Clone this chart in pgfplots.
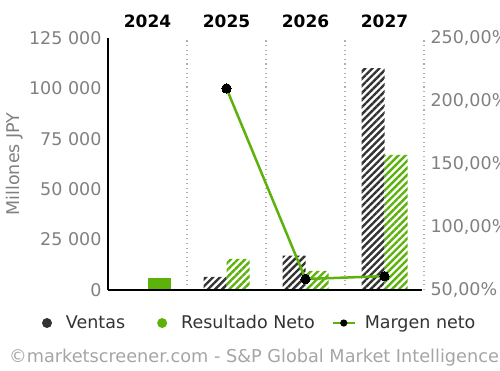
\documentclass[border=0pt]{standalone}
\usepackage{fontspec}
\setmainfont{DejaVu Sans}
\usepackage{pgfplots}
\pgfplotsset{compat=1.18}
\usetikzlibrary{patterns.meta}
\definecolor{vgreen}{RGB}{92,178,10}
\definecolor{vdark}{RGB}{51,51,51}
\definecolor{tickgray}{RGB}{128,128,128}
\definecolor{sepgray}{RGB}{175,175,175}
\definecolor{copygray}{RGB}{165,165,165}
\begin{document}
\begin{tikzpicture}
\pgfplotsset{every axis/.append style={font=\fontsize{17.5}{20}\selectfont}}
\begin{axis}[
  name=main,
  at={(108pt,80pt)}, anchor=south west, scale only axis,
  width=316pt, height=252pt,
  xmin=-0.5, xmax=3.5, ymin=0, ymax=125000,
  axis line style={draw=none},
  xtick={0,1,2,3}, xticklabels={2024,2025,2026,2027},
  xticklabel pos=upper,
  xticklabel style={font=\fontsize{17}{20}\selectfont\bfseries, text=black, yshift=7pt},
  minor xtick={0.5,1.5,2.5,3.5}, xminorgrids,
  minor grid style={sepgray, line width=1.1pt, dash pattern=on 1.1pt off 3.5pt},
  ytick={0,25000,50000,75000,100000,125000},
  yticklabels={0,25 000,50 000,75 000,100 000,125 000},
  scaled y ticks=false,
  yticklabel style={text=tickgray, xshift=-3pt},
  major tick length=0pt, minor tick length=0pt,
  ylabel={Millones JPY},
  every axis y label/.style={at={(axis description cs:-0.294,0.5)}, rotate=90, anchor=center, text=tickgray},
  ybar, bar width=23pt,
  clip=false,
  legend style={at={(axis description cs:-0.2089,-0.131)}, anchor=west, draw=none, fill=none,
    inner sep=0pt, outer sep=0pt, nodes={inner sep=0pt, outer sep=0pt},
    legend columns=3, text=vdark, font=\fontsize{17.5}{20}\selectfont,
    /tikz/every even column/.append style={column sep=0pt},
    /tikz/every odd column/.append style={column sep=0pt}},
  legend cell align=left,
]
\addlegendimage{legend image code/.code={\path[draw=none,fill=none] (0pt,-6pt) rectangle (24pt,6pt); \fill[vdark, draw=none] (5pt,0) circle (5pt);}}
\addlegendentry{Ventas}
\addlegendimage{legend image code/.code={\path[draw=none,fill=none] (0pt,-6pt) rectangle (56pt,6pt); \fill[vgreen, draw=none] (37pt,0) circle (5pt);}}
\addlegendentry{Resultado Neto}
\addlegendimage{legend image code/.code={\path[draw=none,fill=none] (0pt,-6pt) rectangle (50pt,6pt); \draw[vgreen, line width=2.5pt, fill=none] (18pt,0) -- (40pt,0); \fill[black, draw=none] (29pt,0) circle (3.6pt);}}
\addlegendentry{Margen neto}

\addplot[draw=none, bar shift=-11.5pt, pattern={Lines[angle=45, distance=5pt, line width=2.4pt]}, pattern color=vdark, forget plot]
  coordinates {(1,6500) (2,17000) (3,110000)};
\addplot[draw=none, fill=vgreen, bar shift=11.5pt, forget plot]
  coordinates {(0,6000)};
\addplot[draw=none, bar shift=11.5pt, pattern={Lines[angle=45, distance=5pt, line width=2.4pt]}, pattern color=vgreen, forget plot]
  coordinates {(1,15400) (2,9500) (3,67000)};
\draw[black, line width=2pt] (rel axis cs:0,1) -- (rel axis cs:0,0);
\draw[black, line width=2.5pt] (rel axis cs:0,0) -- (rel axis cs:0.994,0);
\end{axis}
\begin{axis}[
  at={(main.south west)}, anchor=south west, scale only axis,
  width=316pt, height=252pt,
  xmin=-0.5, xmax=3.5, ymin=50, ymax=250,
  axis line style={draw=none},
  xtick=\empty,
  ytick={50,100,150,200,250},
  yticklabels={{50,00\%},{100,00\%},{150,00\%},{200,00\%},{250,00\%}},
  yticklabel pos=right,
  yticklabel style={text=tickgray, xshift=3pt},
  major tick length=0pt,
  clip=false,
]
\addplot[vgreen, line width=2.5pt, mark=*, mark size=4.7pt, mark options={fill=black, draw=black, line width=0pt}]
  coordinates {(1,210) (2,58.7) (3,61)};
\end{axis}
\node[text=copygray, font=\fontsize{17.7}{20}\selectfont] at (254pt,12pt) {\textcopyright marketscreener.com - S\&P Global Market Intelligence};
\pgfresetboundingbox
\useasboundingbox (0pt,0pt) rectangle (500pt,370pt);
\end{tikzpicture}
\end{document}
